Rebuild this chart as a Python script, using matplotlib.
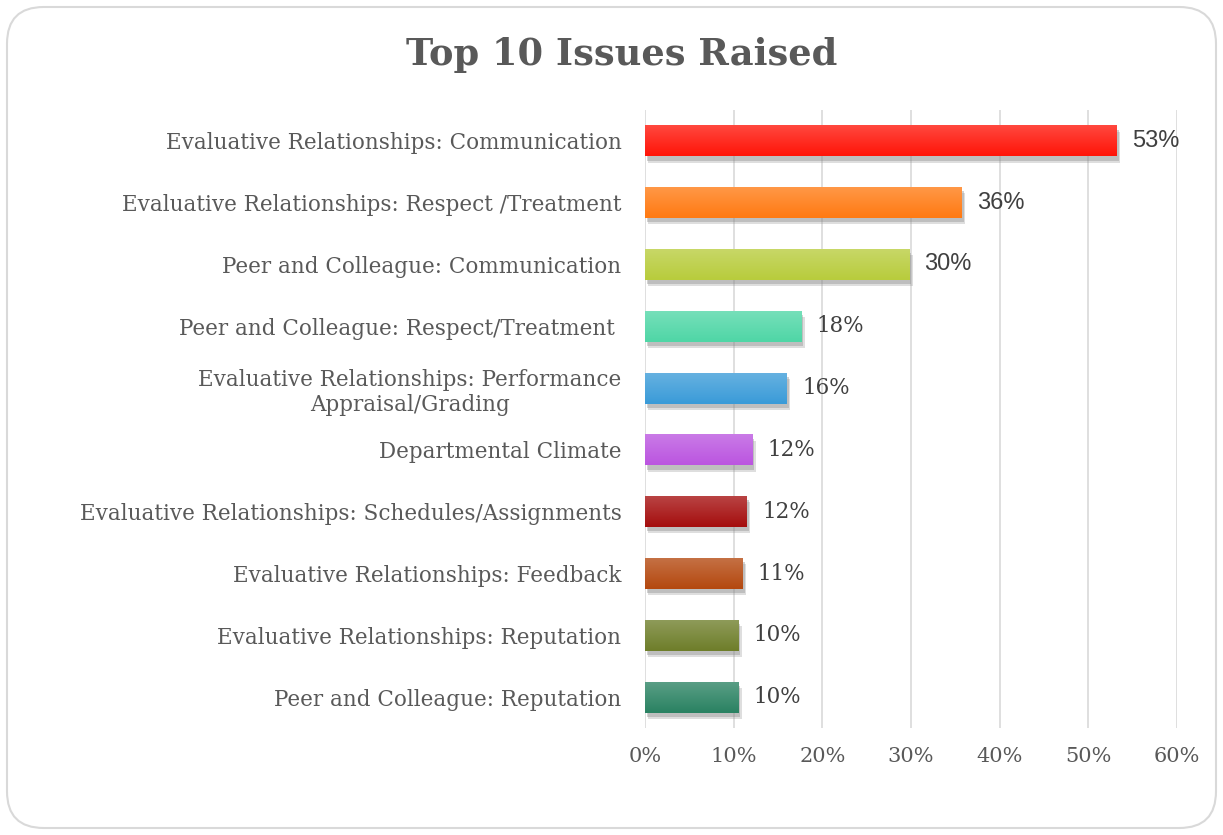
import matplotlib
matplotlib.use("Agg")
import matplotlib.pyplot as plt
import matplotlib.transforms as mtransforms
from matplotlib.patches import FancyBboxPatch
from matplotlib.colors import to_rgb
import numpy as np

categories = [
    "Evaluative Relationships: Communication",
    "Evaluative Relationships: Respect /Treatment",
    "Peer and Colleague: Communication",
    "Peer and Colleague: Respect/Treatment ",
    "Evaluative Relationships: Performance\nAppraisal/Grading",
    "Departmental Climate",
    "Evaluative Relationships: Schedules/Assignments",
    "Evaluative Relationships: Feedback",
    "Evaluative Relationships: Reputation",
    "Peer and Colleague: Reputation",
]
values = [53.2, 35.7, 29.8, 17.6, 16.0, 12.1, 11.5, 11.0, 10.5, 10.5]
value_labels = ["53%", "36%", "30%", "18%", "16%", "12%", "12%", "11%", "10%", "10%"]
colors = ["#FF1408", "#FF7A12", "#B8CC3C", "#4FD6A6", "#3A9BD8",
          "#BB55E0", "#A50E0E", "#B4480F", "#6E7E2A", "#2A8262"]
xticks = [0, 10, 20, 30, 40, 50, 60]

fig = plt.figure(figsize=(12.23, 8.35), dpi=100)
fig.patch.set_facecolor("white")

# rounded border
border = FancyBboxPatch((7 / 1223, 7 / 835), 1209 / 1223, 821 / 835,
                        boxstyle="round,pad=0,rounding_size=0.03",
                        transform=fig.transFigure, fill=False,
                        edgecolor="#D9D9D9", linewidth=1.5, mutation_aspect=1223 / 835)
fig.patches.append(border)

ax = fig.add_axes([645 / 1223, 1 - 728 / 835, (1177 - 645) / 1223, (728 - 110) / 835])
y = np.arange(len(categories))
h = 0.5

# shadows (soft, two layers)
for dx, dy, a in [(2.5, -4.5, 0.28), (1.5, -3.0, 0.38)]:
    tr = ax.transData + mtransforms.ScaledTranslation(dx / 72, dy / 72, fig.dpi_scale_trans)
    ax.barh(y, values, height=h, color="#8A8A8A", alpha=a, transform=tr, zorder=2)

bars = ax.barh(y, values, height=h, color=colors, zorder=3)

# vertical gradient (lighter top) inside each bar
for yi, v, c in zip(y, values, colors):
    base = np.array(to_rgb(c))
    light = base + (1 - base) * 0.22
    t = np.linspace(0, 1, 32)[:, None]
    grad = (light[None, :] * (1 - t) + base[None, :] * t)[:, None, :]
    ax.imshow(grad, extent=(0, v, yi + h / 2, yi - h / 2), aspect="auto",
              interpolation="bilinear", zorder=4, origin="upper")

for yi, v, lab in zip(y, values, value_labels):
    if yi < 3:
        fam, fs = "Liberation Sans", 17
    else:
        fam, fs = "DejaVu Serif", 15.5
    ax.annotate(lab, (v, yi), xytext=(11, 0), textcoords="offset points",
                va="center", ha="left", fontsize=fs, color="#404040", family=fam)

ax.set_xlim(0, 60)
ax.set_ylim(len(categories) - 0.5, -0.5)
ax.set_xticks(xticks)
ax.set_xticklabels([f"{t}%" for t in xticks])
ax.set_yticks(y)
ax.set_yticklabels(categories, ha="right", multialignment="center")
ax.tick_params(axis="both", length=0, colors="#595959")
ax.tick_params(axis="x", pad=14, labelsize=15)
ax.tick_params(axis="y", pad=17, labelsize=15.5)
for lab in ax.get_xticklabels() + ax.get_yticklabels():
    lab.set_family("DejaVu Serif")
    lab.set_color("#595959")
ax.grid(axis="x", color="#D9D9D9", linewidth=1.2, zorder=0)
ax.set_axisbelow(True)
for s in ax.spines.values():
    s.set_visible(False)

fig.text(622 / 1223, 1 - 55 / 835, "Top 10 Issues Raised", ha="center", va="center",
         fontsize=26.5, fontweight="bold", family="DejaVu Serif", color="#595959")

fig.savefig("out.png", dpi=100, facecolor="white")
